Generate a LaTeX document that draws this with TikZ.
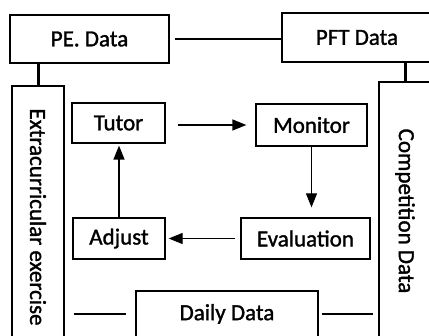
\documentclass[tikz,border=0pt]{standalone}
\usepackage{fontspec}
\setmainfont{Carlito}[FakeBold=1.4]
\usetikzlibrary{arrows.meta}
\begin{document}
\begin{tikzpicture}[x=1pt, y=-1pt,
        every node/.style={font=\fontsize{23}{27}\selectfont},
        box/.style={draw, line width=1.3pt, inner sep=0pt},
        link/.style={line width=1.6pt},
        heavy/.style={line width=3pt},
        flow/.style={line width=1.3pt, -{Triangle[length=14pt,width=11pt]}}]
        \useasboundingbox (0,0) rectangle (429,336);
        \clip (0,0) rectangle (429,336);
        \node [box, minimum width=159, minimum height=48] (pe) at (89.5,39) {PE. Data};
        \node [box, minimum width=150, minimum height=49] (pft) at (357,37.5) {PFT Data\hspace{6pt}};
        \node [box, rotate=-90, minimum width=262, minimum height=52] (extra) at (38,217) {Extracurricular exercise};
        \node [box, rotate=-90, minimum width=258, minimum height=52] (comp) at (405,211) {Competition Data};
        \node [box, minimum width=93, minimum height=40] (tutor) at (118.5,123) {Tutor};
        \node [box, minimum width=111, minimum height=42] (monitor) at (311.5,125) {Monitor};
        \node [box, minimum width=92, minimum height=41] (adjust) at (119,238.5) {Adjust};
        \node [box, minimum width=129, minimum height=41] (eval) at (305.5,238.5) {Evaluation};
        \node [box, minimum width=182, minimum height=46] (daily) at (227,314) {Daily Data};
        \draw [link, shorten <=5pt] (pe.east) -- (pft.west |- pe.east);
        \draw [heavy] (pe.south -| extra.center) -- (extra.west);
        \draw [heavy] (pft.south -| comp.center) -- (comp.west);
        \draw [link, shorten <=9pt, shorten >=9pt] (extra.north |- daily.west) -- (daily.west);
        \draw [link, shorten <=3pt, shorten >=5pt] (daily.east) -- (comp.south |- daily.east);
        \draw [flow, shorten <=12pt, shorten >=9pt] (monitor.west -| tutor.east) -- (monitor.west);
        \draw [flow, shorten >=10pt] (monitor.south) -- (monitor.south |- eval.north);
        \draw [flow, shorten <=5pt, shorten >=3pt] (eval.west) -- (adjust.east);
        \draw [flow, shorten >=2pt] (adjust.north) -- (adjust.north |- tutor.south);
    \end{tikzpicture}
\end{document}
